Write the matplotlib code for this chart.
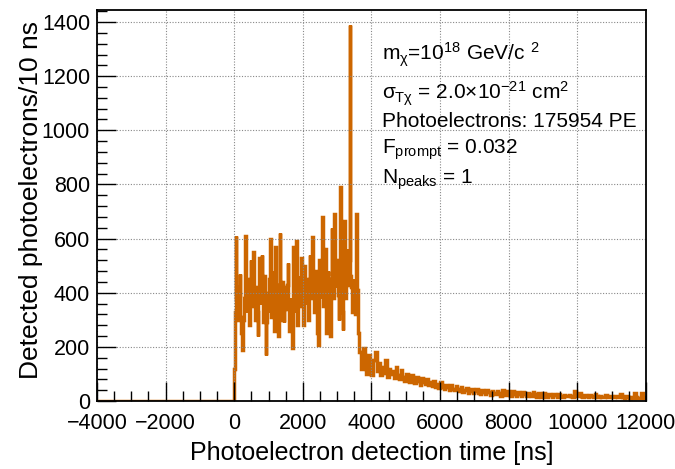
import numpy as np
import matplotlib
matplotlib.use('Agg')
import matplotlib.pyplot as plt
from matplotlib.ticker import MultipleLocator

plt.rcParams['font.family'] = ['Liberation Sans', 'DejaVu Sans']
plt.rcParams['mathtext.fontset'] = 'custom'
plt.rcParams['mathtext.rm'] = 'Liberation Sans'
plt.rcParams['mathtext.it'] = 'Liberation Sans'
plt.rcParams['mathtext.bf'] = 'Liberation Sans'

# Photoelectrons per 10 ns
# prompt part: 0 .. 3600 ns, one value per 20 ns
prompt_counts = [
    120, 330, 610, 380, 420, 340, 300, 390, 470, 310,
    250, 280, 190, 300, 380, 450, 610, 420, 330, 390,
    450, 360, 280, 410, 520, 400, 350, 440, 550, 380,
    300, 350, 420, 330, 240, 400, 530, 360, 380, 460,
    540, 370, 290, 380, 460, 300, 170, 290, 400, 360,
    330, 450, 600, 420, 310, 390, 480, 340, 260, 380,
    570, 410, 360, 300, 240, 430, 620, 380, 300, 350,
    440, 360, 290, 370, 420, 390, 340, 430, 510, 350,
    260, 330, 380, 290, 195, 390, 570, 410, 330, 460,
    590, 400, 280, 370, 460, 410, 350, 440, 530, 390,
    280, 400, 500, 420, 360, 400, 450, 370, 300, 420,
    540, 450, 380, 470, 605, 410, 330, 400, 480, 390,
    300, 250, 206, 380, 520, 450, 380, 490, 680, 440,
    350, 470, 560, 380, 250, 390, 480, 400, 330, 280,
    240, 450, 640, 470, 380, 520, 690, 480, 420, 470,
    520, 390, 300, 480, 790, 520, 420, 330, 262, 450,
    665, 470, 380, 470, 560, 480, 430, 520, 1390, 460,
    420, 370, 330, 400, 450, 380, 320, 470, 690, 410,
]
# late part: 3600 .. 12000 ns, one value per 50 ns
tail_counts = [
    250, 180, 120, 195, 150, 100, 170, 130, 95, 150, 180, 110, 140, 95, 125, 105, 150, 90, 120, 100,
    110, 85, 125, 95, 80, 115, 90, 75, 100, 85, 70, 95, 80, 65, 90, 75, 60, 85, 70, 62,
    80, 58, 70, 55, 75, 50, 62, 48, 70, 52, 45, 60, 50, 42, 58, 45, 40, 55, 44, 38,
    50, 32, 40, 48, 30, 38, 46, 28, 36, 44, 30, 26, 42, 34, 24, 40, 33, 22, 38, 31,
    24, 36, 30, 20, 40, 30, 22, 38, 28, 19, 36, 27, 20, 35, 26, 18, 34, 25, 18, 30,
    26, 17, 32, 24, 16, 30, 23, 15, 28, 22, 15, 26, 21, 14, 27, 21, 14, 24, 20, 13,
    23, 19, 17, 22, 18, 16, 38, 20, 17, 30, 19, 16, 22, 18, 15, 21, 17, 15, 24, 17,
    15, 20, 16, 14, 22, 16, 14, 19, 15, 13, 18, 15, 13, 26, 15, 12, 17, 14, 12, 16,
    12, 30, 14, 12, 11, 28, 13, 12,
]

t_min, t_prompt_end, t_max = -4000, 3600, 12000

edges = np.concatenate([[t_min],
                        np.arange(0, t_prompt_end, 20),
                        np.arange(t_prompt_end, t_max + 1, 50)])
values = np.concatenate([[0], prompt_counts, tail_counts])

fig = plt.figure(figsize=(6.75, 4.69), dpi=100)
ax = fig.add_axes([0.1437, 0.145, 0.8133, 0.834])

ax.stairs(values, edges, color='#CC6600', lw=2.5)

ax.set_xlim(t_min, t_max)
ax.set_ylim(0, 1445)
ax.xaxis.set_major_locator(MultipleLocator(2000))
ax.xaxis.set_minor_locator(MultipleLocator(500))
ax.yaxis.set_major_locator(MultipleLocator(200))
ax.yaxis.set_minor_locator(MultipleLocator(40))
ax.tick_params(which='both', direction='in', top=False, right=False,
               labelsize=15.5, width=1.0)
ax.tick_params(which='major', length=14)
ax.tick_params(which='minor', length=7)
ax.tick_params(axis='x', pad=9)
ax.tick_params(axis='y', pad=5)
ax.grid(True, which='major', ls=(0, (1, 1.5)), color='#888888', lw=0.8)
for s in ax.spines.values():
    s.set_linewidth(1.3)

ax.set_xticks(ax.get_xticks())
ax.set_xticklabels([f'{int(v)}'.replace('-', '\u2212') for v in ax.get_xticks()])
ax.set_xlim(t_min, t_max)
ax.set_xlabel('Photoelectron detection time [ns]', fontsize=18, labelpad=5)
ax.set_ylabel('Detected photoelectrons/10 ns', fontsize=19)
ax.yaxis.set_label_coords(-0.098, 0.514)

info = [
    r'm$_{\chi}$=10$^{18}$ GeV/c $^{2}$',
    r'$\sigma_{T\chi}$ = 2.0$\times$10$^{-21}$ cm$^{2}$',
    'Photoelectrons: 175954 PE',
    r'F$_{\mathrm{prompt}}$ = 0.032',
    r'N$_{\mathrm{peaks}}$ = 1',
]
y_pos = [0.885, 0.785, 0.714, 0.643, 0.565]
for txt, yy in zip(info, y_pos):
    ax.text(0.52, yy, txt, transform=ax.transAxes, fontsize=15,
            va='center', ha='left')

fig.savefig('out.png', dpi=100)
